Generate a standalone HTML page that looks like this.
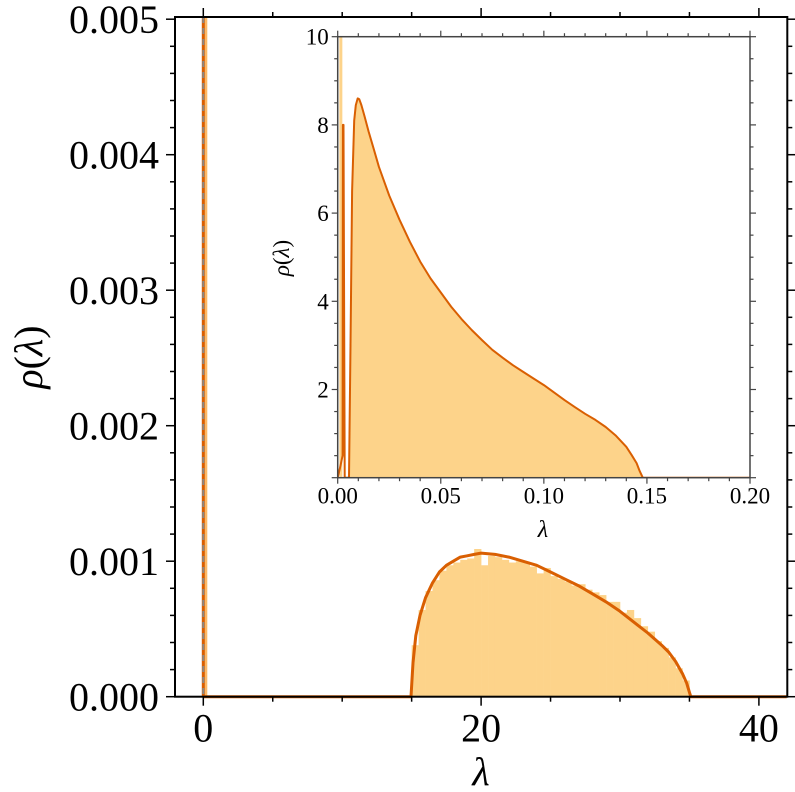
<!DOCTYPE html>
<html><head><meta charset="utf-8"><style>
body{margin:0;background:#fff}
svg{display:block}
text{font-family:"Liberation Serif",serif;fill:#000}
</style></head><body>
<svg id="c" width="795" height="792"></svg>
<script>
// main curve (lambda, rho)
const mainCurveX=[14.95,15.1,15.3,15.6,16,16.5,17,17.5,18,18.5,19,19.5,20,21,22,23,24,25,26,27,28,29,30,31,32,33,33.5,34,34.5,34.8,35,35.1,42];
const mainCurveY=[0,0.00025,0.00045,0.0006,0.00073,0.00084,0.00092,0.00097,0.001,0.00103,0.00104,0.00105,0.00106,0.00105,0.00103,0.001,0.00097,0.00092,0.00087,0.00082,0.00076,0.0007,0.00063,0.00055,0.00047,0.00038,0.00033,0.00026,0.00017,0.0001,0.00003,0,0];
// main histogram bins (start 15, width 0.5)
const histStart=15, histWidth=0.5;
const histVals=[0.00038,0.00064,0.00078,0.00086,0.00093,0.00097,0.00099,0.00101,0.00102,0.00109,0.00097,0.00104,0.00103,0.00101,0.00099,0.001,0.00099,0.00096,0.00091,0.00095,0.00089,0.00087,0.00085,0.00082,0.00083,0.00079,0.00077,0.00075,0.0007,0.0007,0.00062,0.00064,0.00058,0.00052,0.00048,0.00041,0.00036,0.00029,0.00021,0.00012];
const xTicks=[0,20,40], yTicks=[0,0.001,0.002,0.003,0.004,0.005];
const yTickLabels=["0.000","0.001","0.002","0.003","0.004","0.005"];
// inset
const inX=[0,0.001,0.0024,0.0025,0.0028,0.0034,0.0055,0.0062,0.007,0.008,0.0088,0.0097,0.0105,0.0115,0.013,0.015,0.0175,0.02,0.025,0.03,0.035,0.04,0.045,0.05,0.055,0.06,0.065,0.07,0.075,0.08,0.085,0.09,0.095,0.10,0.105,0.11,0.115,0.12,0.125,0.13,0.135,0.14,0.1425,0.145,0.1465,0.148,0.2];
const inY=[0,0.2,0.5,8,8,0,0,3,6.5,8.1,8.45,8.6,8.58,8.45,8.2,7.85,7.45,7.05,6.4,5.85,5.35,4.9,4.52,4.2,3.88,3.6,3.35,3.12,2.9,2.72,2.55,2.4,2.25,2.1,1.93,1.76,1.6,1.45,1.31,1.15,0.95,0.7,0.52,0.33,0.15,0,0];
const inXTicks=[0,0.05,0.1,0.15,0.2], inXTickLabels=["0.00","0.05","0.10","0.15","0.20"];
const inYTicks=[2,4,6,8,10], inYTickLabels=["2","4","6","8","10"];

const svg=document.getElementById('c');const NS='http://www.w3.org/2000/svg';
function mk(t,a,p){const e=document.createElementNS(NS,t);for(const k in a)e.setAttribute(k,a[k]);(p||svg).appendChild(e);return e;}
const L=175,R=787.3,T=17,B=696.7;
const sx=v=>203.3+v*13.89, sy=v=>B-v*135500;
histVals.forEach((v,i)=>{const x0=sx(histStart+i*histWidth);
const r=mk('rect',{x:x0,y:sy(v),width:sx(histStart+(i+1)*histWidth)-x0+0.3,height:B-sy(v),fill:'#fdd38a'});

});
let e=mk('rect',{x:sx(0)-1,y:T,width:5,height:B-T,fill:'#fdb866'});
e=mk('line',{x1:sx(0),x2:sx(0),y1:T,y2:B,stroke:'#d95f02','stroke-width':3});
e=mk('line',{x1:sx(0),x2:sx(0),y1:T,y2:B,stroke:'#888','stroke-width':2,'stroke-dasharray':'6,5'});
let d='M'+sx(0)+','+B+' L'+sx(mainCurveX[0])+','+B+' '+mainCurveX.map((x,i)=>sx(x).toFixed(1)+','+sy(mainCurveY[i]).toFixed(1)).join(' ');
e=mk('path',{d:d,fill:'none',stroke:'#d95f02','stroke-width':3,'stroke-linejoin':'round'});
e=mk('rect',{x:L,y:T,width:R-L,height:B-T,fill:'none',stroke:'#000','stroke-width':2});
for(let v=0;v<=40;v+=5){const x=sx(v),big=v%20==0;mk('line',{x1:x,x2:x,y1:B,y2:B+(big?9:5),stroke:'#000','stroke-width':1.5});mk('line',{x1:x,x2:x,y1:T,y2:T-(big?9:5),stroke:'#000','stroke-width':1.5});}
for(let k=0;k<=25;k++){const y=sy(k*0.0002),big=k%5==0;mk('line',{x1:L,x2:L-(big?9:5),y1:y,y2:y,stroke:'#000','stroke-width':1.5});mk('line',{x1:R,x2:R+(big?9:5),y1:y,y2:y,stroke:'#000','stroke-width':1.5});}
xTicks.forEach(v=>{const t=mk('text',{x:sx(v),y:B+45,'font-size':40,'text-anchor':'middle'});t.textContent=v;});
yTicks.forEach((v,i)=>{const t=mk('text',{x:159,y:sy(v)+14,'font-size':40,'text-anchor':'end'});t.textContent=yTickLabels[i];});
e=mk('text',{x:481,y:785,'font-size':40,'font-style':'italic','text-anchor':'middle'});e.textContent='λ';
e=mk('text',{x:0,y:0,'font-size':40,'text-anchor':'middle',transform:'translate(42,357) rotate(-90)'});e.innerHTML='<tspan font-style="italic">ρ</tspan>(<tspan font-style="italic">λ</tspan>)';
// inset
const iL=337.7,iR=750,iT=36.7,iB=477.7;
const ix=v=>iL+v*2061.5, iy=v=>iB-v*44.1;
const g=mk('g',{});
mk('rect',{x:iL,y:iT,width:iR-iL,height:iB-iT,fill:'#fff'},g);
const clip=mk('clipPath',{id:'ic'},g);mk('rect',{x:iL,y:iT,width:iR-iL,height:iB-iT},clip);
const ig=mk('g',{'clip-path':'url(#ic)'},g);
let fd='M'+ix(0.0055)+','+iB+' '+inX.map((x,i)=>x>=0.0055&&x<=0.148?ix(x).toFixed(1)+','+iy(inY[i]).toFixed(1):'').filter(s=>s).join(' ')+' Z';
e=mk('path',{d:fd,fill:'#fdd38a'},ig);
e=mk('rect',{x:ix(0.0008),y:iT,width:3,height:iB-iT,fill:'#fdd38a'},ig);
e=mk('path',{d:'M'+inX.map((x,i)=>ix(x).toFixed(1)+','+iy(inY[i]).toFixed(1)).join(' L'),fill:'none',stroke:'#d95f02','stroke-width':2,'stroke-linejoin':'round'},ig);
mk('rect',{x:iL,y:iT,width:iR-iL,height:iB-iT,fill:'none',stroke:'#444','stroke-width':1.5},g);
for(let k=0;k<=20;k++){const x=ix(k*0.01),big=k%5==0;mk('line',{x1:x,x2:x,y1:iB,y2:iB+(big?6:3.5),stroke:'#444','stroke-width':1.2},g);mk('line',{x1:x,x2:x,y1:iT,y2:iT-(big?6:3.5),stroke:'#444','stroke-width':1.2},g);}
for(let k=0;k<=20;k++){const y=iy(k*0.5),big=k%4==0;mk('line',{x1:iL,x2:iL-(big?6:3.5),y1:y,y2:y,stroke:'#444','stroke-width':1.2},g);mk('line',{x1:iR,x2:iR+(big?6:3.5),y1:y,y2:y,stroke:'#444','stroke-width':1.2},g);}
inXTicks.forEach((v,i)=>{const t=mk('text',{x:ix(v),y:iB+26,'font-size':23,'text-anchor':'middle'},g);t.textContent=inXTickLabels[i];});
inYTicks.forEach((v,i)=>{const t=mk('text',{x:iL-9,y:iy(v)+8,'font-size':23,'text-anchor':'end'},g);t.textContent=inYTickLabels[i];});
e=mk('text',{x:543,y:537,'font-size':24,'font-style':'italic','text-anchor':'middle'},g);e.textContent='λ';
e=mk('text',{x:0,y:0,'font-size':23,'text-anchor':'middle',transform:'translate(289,258) rotate(-90)'},g);e.innerHTML='<tspan font-style="italic">ρ</tspan>(<tspan font-style="italic">λ</tspan>)';
</script>
</body></html>
